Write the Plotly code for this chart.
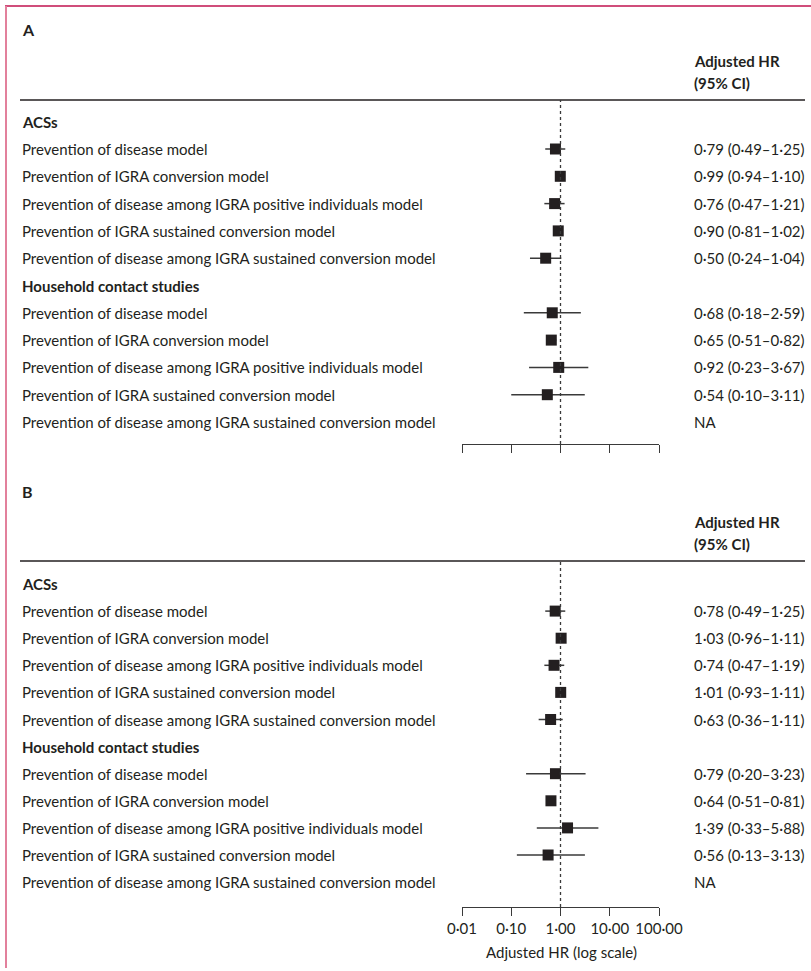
import plotly.graph_objects as go

# ---------------- data ----------------
row_labels = [
    "ACSs",
    "Prevention of disease model",
    "Prevention of IGRA conversion model",
    "Prevention of disease among IGRA positive individuals model",
    "Prevention of IGRA sustained conversion model",
    "Prevention of disease among IGRA sustained conversion model",
    "Household contact studies",
    "Prevention of disease model",
    "Prevention of IGRA conversion model",
    "Prevention of disease among IGRA positive individuals model",
    "Prevention of IGRA sustained conversion model",
    "Prevention of disease among IGRA sustained conversion model",
]
is_header = [True, False, False, False, False, False, True, False, False, False, False, False]

# Panel A
hr_a = [None, 0.79, 0.99, 0.76, 0.90, 0.50, None, 0.68, 0.65, 0.92, 0.54, None]
lo_a = [None, 0.49, 0.94, 0.47, 0.81, 0.24, None, 0.18, 0.51, 0.23, 0.10, None]
hi_a = [None, 1.25, 1.10, 1.21, 1.02, 1.04, None, 2.59, 0.82, 3.67, 3.11, None]
txt_a = ["", "0·79 (0·49–1·25)", "0·99 (0·94–1·10)", "0·76 (0·47–1·21)", "0·90 (0·81–1·02)",
         "0·50 (0·24–1·04)", "", "0·68 (0·18–2·59)", "0·65 (0·51–0·82)", "0·92 (0·23–3·67)",
         "0·54 (0·10–3·11)", "NA"]

# Panel B
hr_b = [None, 0.78, 1.03, 0.74, 1.01, 0.63, None, 0.79, 0.64, 1.39, 0.56, None]
lo_b = [None, 0.49, 0.96, 0.47, 0.93, 0.36, None, 0.20, 0.51, 0.33, 0.13, None]
hi_b = [None, 1.25, 1.11, 1.19, 1.11, 1.11, None, 3.23, 0.81, 5.88, 3.13, None]
txt_b = ["", "0·78 (0·49–1·25)", "1·03 (0·96–1·11)", "0·74 (0·47–1·19)", "1·01 (0·93–1·11)",
         "0·63 (0·36–1·11)", "", "0·79 (0·20–3·23)", "0·64 (0·51–0·81)", "1·39 (0·33–5·88)",
         "0·56 (0·13–3·13)", "NA"]

tick_vals = [0.01, 0.1, 1, 10, 100]
tick_text = ["0·01", "0·10", "1·00", "10·00", "100·00"]

# ---------------- style ----------------
W, H = 811, 971
TXT = "#231f20"
FONT = "Lato"
FS = 15

def py(px):
    return 1 - px / H

fig = go.Figure()

panels = [
    dict(hr=hr_a, lo=lo_a, hi=hi_a, txt=txt_a, xa="x", ya="y", letter="A",
         letter_px=30, h1_px=61, h2_px=83, rule_px=100, axis_px=444, row0=121.7, step=27.3),
    dict(hr=hr_b, lo=lo_b, hi=hi_b, txt=txt_b, xa="x2", ya="y2", letter="B",
         letter_px=491, h1_px=522, h2_px=544, rule_px=561, axis_px=907, row0=584, step=27.1),
]

annotations = []
shapes = []
layout_axes = {}

for k, p in enumerate(panels):
    rows = list(range(len(row_labels)))
    # CI lines
    cx, cy = [], []
    for i in rows:
        if p["hr"][i] is not None:
            cx += [p["lo"][i], p["hi"][i], None]
            cy += [i, i, None]
    fig.add_trace(go.Scatter(x=cx, y=cy, mode="lines", line=dict(color="#3a3a3a", width=1.5),
                             xaxis=p["xa"], yaxis=p["ya"], hoverinfo="skip", showlegend=False))
    mx = [p["hr"][i] for i in rows if p["hr"][i] is not None]
    my = [i for i in rows if p["hr"][i] is not None]
    fig.add_trace(go.Scatter(x=mx, y=my, mode="markers",
                             marker=dict(symbol="square", size=11, color=TXT, line=dict(width=0)),
                             xaxis=p["xa"], yaxis=p["ya"], showlegend=False))

    ymin = (p["rule_px"] - p["row0"]) / p["step"]
    ymax = (p["axis_px"] - p["row0"]) / p["step"]
    sfx = "" if k == 0 else "2"
    layout_axes["xaxis" + sfx] = dict(
        type="log", range=[-2, 2], domain=[462 / W, 659 / W], anchor="y" + sfx,
        showgrid=False, zeroline=False, showline=True, linecolor="#3a3a3a", linewidth=1.3,
        ticks="outside", ticklen=8, tickwidth=1.3, tickcolor="#3a3a3a",
        tickvals=tick_vals, ticktext=tick_text, showticklabels=(k == 1),
        tickfont=dict(family=FONT, size=15, color=TXT),
    )
    layout_axes["yaxis" + sfx] = dict(
        range=[ymax, ymin], domain=[py(p["axis_px"]), py(p["rule_px"])], anchor="x" + sfx,
        visible=False, showgrid=False, zeroline=False,
    )

    # labels
    for i in rows:
        lab = row_labels[i]
        annotations.append(dict(
            x=20 / W, xref="paper", y=i, yref=p["ya"], xanchor="left", yanchor="middle",
            text=("<b>%s</b>" % lab) if is_header[i] else lab, showarrow=False,
            font=dict(family=FONT, size=FS, color=TXT)))
        if p["txt"][i]:
            annotations.append(dict(
                x=692 / W, xref="paper", y=i, yref=p["ya"], xanchor="left", yanchor="middle",
                text=p["txt"][i], showarrow=False, font=dict(family=FONT, size=FS, color=TXT)))
    # panel letter and header
    annotations.append(dict(x=20 / W, xref="paper", y=py(p["letter_px"]), yref="paper",
                            xanchor="left", yanchor="middle", text="<b>%s</b>" % p["letter"],
                            showarrow=False, font=dict(family=FONT, size=16, color=TXT)))
    annotations.append(dict(x=692 / W, xref="paper", y=py(p["h1_px"]), yref="paper",
                            xanchor="left", yanchor="middle", text="<b>Adjusted HR</b>",
                            showarrow=False, font=dict(family=FONT, size=FS, color=TXT)))
    annotations.append(dict(x=692 / W, xref="paper", y=py(p["h2_px"]), yref="paper",
                            xanchor="left", yanchor="middle", text="<b>(95% CI)</b>",
                            showarrow=False, font=dict(family=FONT, size=FS, color=TXT)))
    # rule
    shapes.append(dict(type="line", xref="paper", yref="paper", x0=20 / W, x1=805 / W,
                       y0=py(p["rule_px"]), y1=py(p["rule_px"]),
                       line=dict(color=TXT, width=1.5)))
    # dashed reference line at HR = 1
    shapes.append(dict(type="line", xref=p["xa"], yref=p["ya"] + " domain", x0=1, x1=1,
                       y0=0, y1=1, line=dict(color="#3a3a3a", width=1.3, dash="3px,3px")))

# axis title for panel B
annotations.append(dict(x=561 / W, xref="paper", y=py(952), yref="paper",
                        xanchor="center", yanchor="middle", text="Adjusted HR (log scale)",
                        showarrow=False, font=dict(family=FONT, size=15, color=TXT)))

# frame lines
shapes.append(dict(type="line", xref="paper", yref="paper", x0=5 / W, x1=1, y0=py(6), y1=py(6),
                   line=dict(color="#c0134f", width=1.5)))
shapes.append(dict(type="line", xref="paper", yref="paper", x0=6 / W, x1=6 / W, y0=py(6), y1=py(968),
                   line=dict(color="#e2809c", width=2)))

fig.update_layout(
    width=W, height=H, margin=dict(l=0, r=0, t=0, b=0, autoexpand=False),
    paper_bgcolor="white", plot_bgcolor="white",
    annotations=annotations, shapes=shapes, showlegend=False,
    font=dict(family=FONT, color=TXT), **layout_axes,
)

fig.write_html("out.html", config={"displayModeBar": False},
               post_script="document.body.style.margin='0';")
